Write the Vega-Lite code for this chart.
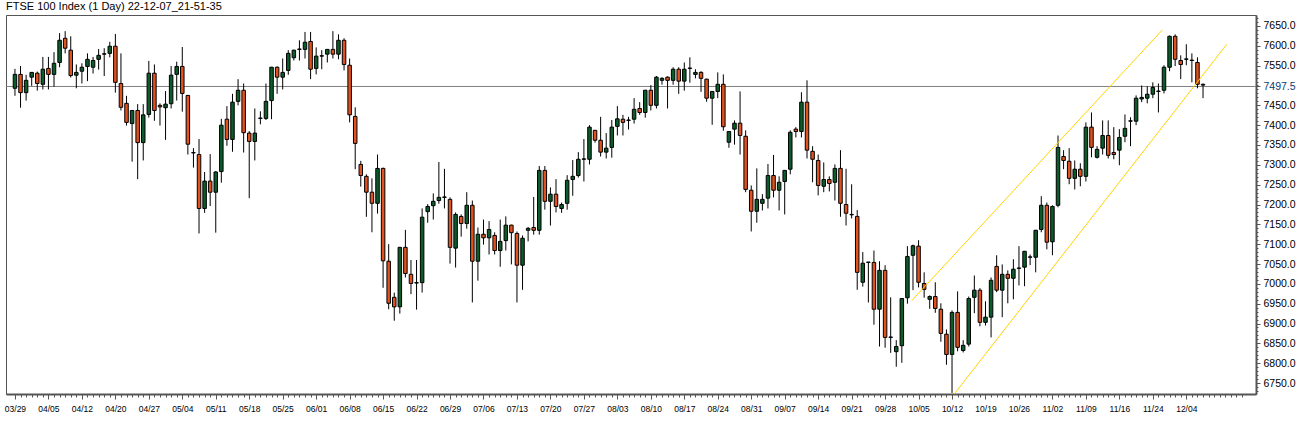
{
  "$schema": "https://vega.github.io/schema/vega-lite/v6.json",
  "autosize": {"type": "none"},
  "padding": {"left": 6, "top": 15, "right": 52, "bottom": 41},
  "width": 1250,
  "height": 379,
  "background": "white",
  "title": {"text": "FTSE 100 Index (1 Day) 22-12-07_21-51-35", "anchor": "start", "frame": "group", "offset": 3, "font": "Liberation Sans", "fontSize": 11, "fontWeight": "normal", "color": "#000000"},
  "config": {
    "view": {"stroke": "#555555", "strokeWidth": 1},
    "axis": {"grid": false, "labelColor": "#000000", "tickColor": "#555555", "domainColor": "#555555", "title": null}
  },
  "datasets": {
    "candles": [
      {"i":0,"o":7493,"h":7542,"l":7474,"c":7528},
      {"i":1,"o":7528,"h":7549,"l":7444,"c":7482},
      {"i":2,"o":7482,"h":7527,"l":7462,"c":7513},
      {"i":3,"o":7521,"h":7533,"l":7499,"c":7533},
      {"i":4,"o":7531,"h":7535,"l":7487,"c":7505},
      {"i":5,"o":7503,"h":7572,"l":7490,"c":7541},
      {"i":6,"o":7543,"h":7572,"l":7490,"c":7528},
      {"i":7,"o":7528,"h":7584,"l":7497,"c":7556},
      {"i":8,"o":7558,"h":7632,"l":7546,"c":7614},
      {"i":9,"o":7619,"h":7637,"l":7581,"c":7594},
      {"i":10,"o":7589,"h":7624,"l":7520,"c":7525},
      {"i":11,"o":7526,"h":7553,"l":7493,"c":7533},
      {"i":12,"o":7536,"h":7556,"l":7505,"c":7546},
      {"i":13,"o":7548,"h":7581,"l":7511,"c":7566},
      {"i":14,"o":7546,"h":7572,"l":7530,"c":7563},
      {"i":15,"o":7566,"h":7592,"l":7540,"c":7576},
      {"i":16,"o":7579,"h":7594,"l":7524,"c":7580},
      {"i":17,"o":7581,"h":7610,"l":7571,"c":7599},
      {"i":18,"o":7599,"h":7630,"l":7482,"c":7508},
      {"i":19,"o":7505,"h":7581,"l":7437,"c":7445},
      {"i":20,"o":7455,"h":7474,"l":7399,"c":7407},
      {"i":21,"o":7404,"h":7437,"l":7308,"c":7437},
      {"i":22,"o":7437,"h":7453,"l":7264,"c":7356},
      {"i":23,"o":7356,"h":7453,"l":7311,"c":7426},
      {"i":24,"o":7427,"h":7562,"l":7419,"c":7531},
      {"i":25,"o":7531,"h":7553,"l":7411,"c":7437},
      {"i":26,"o":7450,"h":7455,"l":7399,"c":7446},
      {"i":27,"o":7444,"h":7486,"l":7363,"c":7453},
      {"i":28,"o":7454,"h":7549,"l":7442,"c":7526},
      {"i":29,"o":7528,"h":7560,"l":7462,"c":7548},
      {"i":30,"o":7548,"h":7597,"l":7434,"c":7480},
      {"i":31,"o":7475,"h":7476,"l":7326,"c":7352},
      {"i":32,"o":7331,"h":7342,"l":7293,"c":7330},
      {"i":33,"o":7326,"h":7365,"l":7127,"c":7190},
      {"i":34,"o":7190,"h":7282,"l":7179,"c":7259},
      {"i":35,"o":7259,"h":7327,"l":7196,"c":7231},
      {"i":36,"o":7231,"h":7284,"l":7129,"c":7282},
      {"i":37,"o":7283,"h":7416,"l":7255,"c":7400},
      {"i":38,"o":7415,"h":7448,"l":7348,"c":7364},
      {"i":39,"o":7364,"h":7479,"l":7333,"c":7458},
      {"i":40,"o":7460,"h":7516,"l":7450,"c":7488},
      {"i":41,"o":7488,"h":7505,"l":7331,"c":7381},
      {"i":42,"o":7380,"h":7385,"l":7216,"c":7359},
      {"i":43,"o":7359,"h":7442,"l":7311,"c":7380},
      {"i":44,"o":7417,"h":7435,"l":7402,"c":7418},
      {"i":45,"o":7417,"h":7505,"l":7413,"c":7460},
      {"i":46,"o":7462,"h":7547,"l":7415,"c":7546},
      {"i":47,"o":7546,"h":7548,"l":7479,"c":7521},
      {"i":48,"o":7521,"h":7568,"l":7490,"c":7533},
      {"i":49,"o":7538,"h":7589,"l":7527,"c":7581},
      {"i":50,"o":7570,"h":7590,"l":7563,"c":7589},
      {"i":51,"o":7591,"h":7614,"l":7563,"c":7592},
      {"i":52,"o":7591,"h":7635,"l":7568,"c":7609},
      {"i":53,"o":7611,"h":7635,"l":7516,"c":7541},
      {"i":54,"o":7543,"h":7596,"l":7528,"c":7574},
      {"i":55,"o":7574,"h":7589,"l":7541,"c":7575},
      {"i":56,"o":7579,"h":7592,"l":7558,"c":7591},
      {"i":57,"o":7591,"h":7637,"l":7568,"c":7579},
      {"i":58,"o":7579,"h":7629,"l":7566,"c":7614},
      {"i":59,"o":7614,"h":7619,"l":7538,"c":7553},
      {"i":60,"o":7551,"h":7568,"l":7407,"c":7426},
      {"i":61,"o":7422,"h":7445,"l":7289,"c":7354},
      {"i":62,"o":7301,"h":7310,"l":7245,"c":7273},
      {"i":63,"o":7271,"h":7276,"l":7169,"c":7231},
      {"i":64,"o":7231,"h":7266,"l":7130,"c":7203},
      {"i":65,"o":7203,"h":7326,"l":7177,"c":7291},
      {"i":66,"o":7291,"h":7293,"l":6990,"c":7058},
      {"i":67,"o":7057,"h":7100,"l":6936,"c":6951},
      {"i":68,"o":6966,"h":6978,"l":6907,"c":6942},
      {"i":69,"o":6942,"h":7093,"l":6925,"c":7092},
      {"i":70,"o":7092,"h":7136,"l":7016,"c":7026},
      {"i":71,"o":7024,"h":7060,"l":6974,"c":7001},
      {"i":72,"o":7002,"h":7060,"l":6935,"c":7003},
      {"i":73,"o":7003,"h":7190,"l":6978,"c":7168},
      {"i":74,"o":7182,"h":7201,"l":7154,"c":7195},
      {"i":75,"o":7197,"h":7228,"l":7162,"c":7208},
      {"i":76,"o":7210,"h":7307,"l":7202,"c":7218},
      {"i":77,"o":7218,"h":7290,"l":7190,"c":7219},
      {"i":78,"o":7213,"h":7218,"l":7051,"c":7092},
      {"i":79,"o":7090,"h":7180,"l":7041,"c":7175},
      {"i":80,"o":7170,"h":7175,"l":7119,"c":7152},
      {"i":81,"o":7152,"h":7231,"l":7139,"c":7198},
      {"i":82,"o":7198,"h":7210,"l":6953,"c":7057},
      {"i":83,"o":7057,"h":7142,"l":7008,"c":7125},
      {"i":84,"o":7125,"h":7162,"l":7099,"c":7116},
      {"i":85,"o":7116,"h":7158,"l":7074,"c":7137},
      {"i":86,"o":7122,"h":7130,"l":7074,"c":7084},
      {"i":87,"o":7084,"h":7162,"l":7043,"c":7107},
      {"i":88,"o":7109,"h":7170,"l":7084,"c":7148},
      {"i":89,"o":7148,"h":7149,"l":7049,"c":7129},
      {"i":90,"o":7127,"h":7132,"l":6953,"c":7047},
      {"i":91,"o":7047,"h":7122,"l":6985,"c":7115},
      {"i":92,"o":7135,"h":7143,"l":7107,"c":7140},
      {"i":93,"o":7142,"h":7219,"l":7124,"c":7135},
      {"i":94,"o":7135,"h":7297,"l":7124,"c":7286},
      {"i":95,"o":7286,"h":7297,"l":7187,"c":7208},
      {"i":96,"o":7208,"h":7243,"l":7147,"c":7226},
      {"i":97,"o":7226,"h":7264,"l":7180,"c":7195},
      {"i":98,"o":7190,"h":7205,"l":7179,"c":7200},
      {"i":99,"o":7203,"h":7274,"l":7187,"c":7261},
      {"i":100,"o":7263,"h":7312,"l":7222,"c":7271},
      {"i":101,"o":7273,"h":7332,"l":7268,"c":7314},
      {"i":102,"o":7314,"h":7365,"l":7258,"c":7315},
      {"i":103,"o":7314,"h":7400,"l":7301,"c":7395},
      {"i":104,"o":7387,"h":7388,"l":7356,"c":7362},
      {"i":105,"o":7362,"h":7421,"l":7321,"c":7332},
      {"i":106,"o":7332,"h":7380,"l":7316,"c":7342},
      {"i":107,"o":7344,"h":7413,"l":7318,"c":7395},
      {"i":108,"o":7397,"h":7448,"l":7374,"c":7416},
      {"i":109,"o":7415,"h":7426,"l":7374,"c":7407},
      {"i":110,"o":7412,"h":7421,"l":7389,"c":7413},
      {"i":111,"o":7415,"h":7468,"l":7404,"c":7440},
      {"i":112,"o":7442,"h":7458,"l":7426,"c":7432},
      {"i":113,"o":7432,"h":7489,"l":7419,"c":7488},
      {"i":114,"o":7488,"h":7501,"l":7437,"c":7450},
      {"i":115,"o":7450,"h":7524,"l":7442,"c":7521},
      {"i":116,"o":7513,"h":7521,"l":7502,"c":7518},
      {"i":117,"o":7521,"h":7523,"l":7442,"c":7513},
      {"i":118,"o":7513,"h":7546,"l":7502,"c":7541},
      {"i":119,"o":7541,"h":7546,"l":7479,"c":7511},
      {"i":120,"o":7511,"h":7558,"l":7487,"c":7541},
      {"i":121,"o":7543,"h":7571,"l":7507,"c":7544},
      {"i":122,"o":7528,"h":7541,"l":7518,"c":7533},
      {"i":123,"o":7533,"h":7536,"l":7484,"c":7518},
      {"i":124,"o":7516,"h":7517,"l":7459,"c":7468},
      {"i":125,"o":7468,"h":7486,"l":7401,"c":7485},
      {"i":126,"o":7485,"h":7533,"l":7468,"c":7503},
      {"i":127,"o":7503,"h":7528,"l":7386,"c":7396},
      {"i":128,"o":7357,"h":7385,"l":7343,"c":7384},
      {"i":129,"o":7390,"h":7412,"l":7351,"c":7405},
      {"i":130,"o":7405,"h":7485,"l":7326,"c":7374},
      {"i":131,"o":7372,"h":7387,"l":7231,"c":7238},
      {"i":132,"o":7236,"h":7248,"l":7132,"c":7183},
      {"i":133,"o":7183,"h":7291,"l":7154,"c":7213},
      {"i":134,"o":7203,"h":7226,"l":7185,"c":7213},
      {"i":135,"o":7216,"h":7302,"l":7190,"c":7273},
      {"i":136,"o":7273,"h":7325,"l":7218,"c":7236},
      {"i":137,"o":7236,"h":7271,"l":7185,"c":7256},
      {"i":138,"o":7258,"h":7287,"l":7175,"c":7286},
      {"i":139,"o":7289,"h":7387,"l":7276,"c":7382},
      {"i":140,"o":7390,"h":7395,"l":7369,"c":7384},
      {"i":141,"o":7384,"h":7483,"l":7369,"c":7458},
      {"i":142,"o":7458,"h":7513,"l":7316,"c":7337},
      {"i":143,"o":7334,"h":7347,"l":7256,"c":7314},
      {"i":144,"o":7311,"h":7326,"l":7223,"c":7248},
      {"i":145,"o":7246,"h":7306,"l":7231,"c":7263},
      {"i":146,"o":7263,"h":7271,"l":7233,"c":7253},
      {"i":147,"o":7256,"h":7301,"l":7210,"c":7291},
      {"i":148,"o":7291,"h":7337,"l":7169,"c":7203},
      {"i":149,"o":7200,"h":7290,"l":7147,"c":7178},
      {"i":150,"o":7174,"h":7251,"l":7165,"c":7175},
      {"i":151,"o":7170,"h":7186,"l":6985,"c":7029},
      {"i":152,"o":7004,"h":7080,"l":6993,"c":7052},
      {"i":153,"o":7054,"h":7055,"l":6953,"c":7055},
      {"i":154,"o":7054,"h":7084,"l":6897,"c":6936},
      {"i":155,"o":6936,"h":7057,"l":6842,"c":7034},
      {"i":156,"o":7034,"h":7047,"l":6839,"c":6865},
      {"i":157,"o":6865,"h":6966,"l":6826,"c":6866},
      {"i":158,"o":6829,"h":6858,"l":6791,"c":6842},
      {"i":159,"o":6844,"h":6964,"l":6801,"c":6963},
      {"i":160,"o":6965,"h":7095,"l":6950,"c":7069},
      {"i":161,"o":7072,"h":7099,"l":6984,"c":7096},
      {"i":162,"o":7095,"h":7110,"l":6991,"c":7004},
      {"i":163,"o":7001,"h":7029,"l":6965,"c":6986},
      {"i":164,"o":6961,"h":6971,"l":6937,"c":6968},
      {"i":165,"o":6968,"h":7004,"l":6927,"c":6938},
      {"i":166,"o":6936,"h":6951,"l":6854,"c":6875},
      {"i":167,"o":6873,"h":6885,"l":6796,"c":6822},
      {"i":168,"o":6822,"h":6933,"l":6725,"c":6928},
      {"i":169,"o":6928,"h":6981,"l":6830,"c":6840},
      {"i":170,"o":6832,"h":6858,"l":6827,"c":6845},
      {"i":171,"o":6848,"h":6968,"l":6842,"c":6963},
      {"i":172,"o":6966,"h":7021,"l":6926,"c":6984},
      {"i":173,"o":6984,"h":6989,"l":6893,"c":6903},
      {"i":174,"o":6903,"h":6956,"l":6895,"c":6916},
      {"i":175,"o":6916,"h":7016,"l":6865,"c":7009},
      {"i":176,"o":7044,"h":7072,"l":6979,"c":6984},
      {"i":177,"o":6984,"h":7049,"l":6916,"c":7024},
      {"i":178,"o":7024,"h":7034,"l":6951,"c":7014},
      {"i":179,"o":7014,"h":7062,"l":6961,"c":7037},
      {"i":180,"o":7039,"h":7095,"l":6996,"c":7040},
      {"i":181,"o":7042,"h":7083,"l":6994,"c":7082},
      {"i":182,"o":7067,"h":7074,"l":7047,"c":7068},
      {"i":183,"o":7067,"h":7136,"l":7029,"c":7135},
      {"i":184,"o":7137,"h":7221,"l":7130,"c":7198},
      {"i":185,"o":7198,"h":7205,"l":7087,"c":7105},
      {"i":186,"o":7106,"h":7198,"l":7072,"c":7195},
      {"i":187,"o":7198,"h":7374,"l":7193,"c":7344},
      {"i":188,"o":7321,"h":7337,"l":7289,"c":7311},
      {"i":189,"o":7309,"h":7342,"l":7251,"c":7266},
      {"i":190,"o":7266,"h":7311,"l":7238,"c":7289},
      {"i":191,"o":7289,"h":7304,"l":7246,"c":7271},
      {"i":192,"o":7271,"h":7407,"l":7258,"c":7395},
      {"i":193,"o":7395,"h":7432,"l":7319,"c":7344},
      {"i":194,"o":7319,"h":7347,"l":7316,"c":7339},
      {"i":195,"o":7342,"h":7412,"l":7326,"c":7374},
      {"i":196,"o":7374,"h":7412,"l":7316,"c":7324},
      {"i":197,"o":7331,"h":7395,"l":7314,"c":7326},
      {"i":198,"o":7337,"h":7390,"l":7299,"c":7369},
      {"i":199,"o":7372,"h":7427,"l":7357,"c":7392},
      {"i":200,"o":7410,"h":7420,"l":7347,"c":7411},
      {"i":201,"o":7410,"h":7475,"l":7400,"c":7468},
      {"i":202,"o":7466,"h":7500,"l":7458,"c":7470},
      {"i":203,"o":7468,"h":7498,"l":7455,"c":7478},
      {"i":204,"o":7478,"h":7508,"l":7468,"c":7495},
      {"i":205,"o":7485,"h":7505,"l":7432,"c":7486},
      {"i":206,"o":7488,"h":7551,"l":7480,"c":7546},
      {"i":207,"o":7546,"h":7626,"l":7536,"c":7624},
      {"i":208,"o":7624,"h":7629,"l":7549,"c":7566},
      {"i":209,"o":7563,"h":7576,"l":7516,"c":7553},
      {"i":210,"o":7566,"h":7604,"l":7551,"c":7567},
      {"i":211,"o":7563,"h":7581,"l":7508,"c":7564},
      {"i":212,"o":7558,"h":7571,"l":7493,"c":7503},
      {"i":213,"o":7503,"h":7505,"l":7468,"c":7501}
    ],
    "trend": [
      {"g":"upper","i":160.77,"p":6957.5},
      {"g":"upper","i":205.7,"p":7640},
      {"g":"lower","i":168.36,"p":6721.5},
      {"g":"lower","i":217.27,"p":7604}
    ],
    "last": [{"p":7497.5}]
  },
  "resolve": {"axis": {"x": "independent", "y": "independent"}},
  "layer": [
    {
      "data": {"name": "last"},
      "mark": {"type": "rule", "stroke": "#808080", "strokeWidth": 1},
      "encoding": {
        "y": {"field": "p", "type": "quantitative", "scale": {"domain": [6722.3, 7677.7], "nice": false, "zero": false}, "axis": null}
      }
    },
    {
      "data": {"name": "candles"},
      "mark": {"type": "rule", "stroke": "#000000", "strokeWidth": 1},
      "encoding": {
        "x": {"field": "i", "type": "quantitative", "scale": {"domain": [-0.71, 221.6], "nice": false, "zero": false},
          "axis": {"orient": "bottom", "values": [0,1,2,3,4,5,6,7,8,9,10,11,12,13,14,15,16,17,18,19,20,21,22,23,24,25,26,27,28,29,30,31,32,33,34,35,36,37,38,39,40,41,42,43,44,45,46,47,48,49,50,51,52,53,54,55,56,57,58,59,60,61,62,63,64,65,66,67,68,69,70,71,72,73,74,75,76,77,78,79,80,81,82,83,84,85,86,87,88,89,90,91,92,93,94,95,96,97,98,99,100,101,102,103,104,105,106,107,108,109,110,111,112,113,114,115,116,117,118,119,120,121,122,123,124,125,126,127,128,129,130,131,132,133,134,135,136,137,138,139,140,141,142,143,144,145,146,147,148,149,150,151,152,153,154,155,156,157,158,159,160,161,162,163,164,165,166,167,168,169,170,171,172,173,174,175,176,177,178,179,180,181,182,183,184,185,186,187,188,189,190,191,192,193,194,195,196,197,198,199,200,201,202,203,204,205,206,207,208,209,210,211,212,213,214,215,216,217,218,219,220], "labels": false, "domain": false, "tickSize": 3, "tickColor": "#555555", "title": null}},
        "y": {"field": "l", "type": "quantitative", "scale": {"domain": [6722.3, 7677.7], "nice": false, "zero": false},
          "axis": {"orient": "right", "values": [6730,6740,6750,6760,6770,6780,6790,6800,6810,6820,6830,6840,6850,6860,6870,6880,6890,6900,6910,6920,6930,6940,6950,6960,6970,6980,6990,7000,7010,7020,7030,7040,7050,7060,7070,7080,7090,7100,7110,7120,7130,7140,7150,7160,7170,7180,7190,7200,7210,7220,7230,7240,7250,7260,7270,7280,7290,7300,7310,7320,7330,7340,7350,7360,7370,7380,7390,7400,7410,7420,7430,7440,7450,7460,7470,7480,7490,7500,7510,7520,7530,7540,7550,7560,7570,7580,7590,7600,7610,7620,7630,7640,7650,7660,7670], "labels": false, "domain": false, "tickSize": 2, "tickColor": "#555555", "title": null}},
        "y2": {"field": "h"}
      }
    },
    {
      "data": {"name": "candles"},
      "mark": {"type": "bar", "width": 3.5, "stroke": "#000000", "strokeWidth": 1},
      "encoding": {
        "x": {"field": "i", "type": "quantitative", "scale": {"domain": [-0.71, 221.6], "nice": false, "zero": false},
          "axis": {"orient": "bottom", "values": [0,6,12,18,24,30,36,42,48,54,60,66,72,78,84,90,96,102,108,114,120,126,132,138,144,150,156,162,168,174,180,186,192,198,204,210],
            "labelExpr": "['03/29','04/05','04/12','04/20','04/27','05/04','05/11','05/18','05/25','06/01','06/08','06/15','06/22','06/29','07/06','07/13','07/20','07/27','08/03','08/10','08/17','08/24','08/31','09/07','09/14','09/21','09/28','10/05','10/12','10/19','10/26','11/02','11/09','11/16','11/24','12/04'][round(datum.value/6)]",
            "labelFont": "Liberation Sans", "labelFontSize": 8.5, "labelPadding": 5, "labelOverlap": false, "labelFlush": false, "labelBound": false,
            "tickSize": 5, "domain": true, "domainColor": "#555555", "domainWidth": 2, "title": null}},
        "y": {"field": "o", "type": "quantitative", "scale": {"domain": [6722.3, 7677.7], "nice": false, "zero": false},
          "axis": {"orient": "right", "values": [6750,6800,6850,6900,6950,7000,7050,7100,7150,7200,7250,7300,7350,7400,7450,7497.5,7550,7600,7650],
            "labelExpr": "format(datum.value, '.1f')", "labelFont": "Liberation Sans", "labelFontSize": 10.5, "labelPadding": 3, "labelOverlap": false, "labelFlush": false, "labelBound": false,
            "labelColor": {"condition": {"test": "datum.value == 7497.5", "value": "#0a3d73"}, "value": "#000000"},
            "tickSize": 4, "domain": true, "domainColor": "#555555", "domainWidth": 2, "title": null}},
        "y2": {"field": "c"},
        "fill": {"condition": {"test": "datum.c >= datum.o", "value": "#0B5B2B"}, "value": "#E2521E"}
      }
    },
    {
      "data": {"name": "trend"},
      "mark": {"type": "line", "stroke": "#FFD400", "strokeWidth": 1, "clip": true},
      "encoding": {
        "x": {"field": "i", "type": "quantitative", "scale": {"domain": [-0.71, 221.6], "nice": false, "zero": false}, "axis": null},
        "y": {"field": "p", "type": "quantitative", "scale": {"domain": [6722.3, 7677.7], "nice": false, "zero": false}, "axis": null},
        "detail": {"field": "g"}
      }
    }
  ]
}
